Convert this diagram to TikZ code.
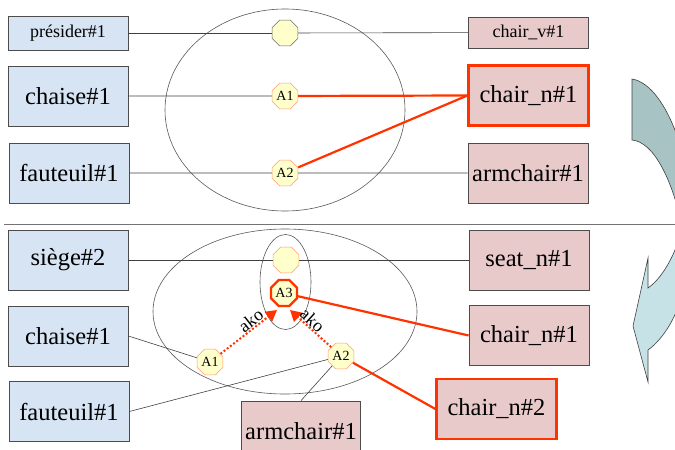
\documentclass[tikz,border=0pt]{standalone}
\usepackage{fontspec}
\setmainfont{Liberation Serif}
\usetikzlibrary{shapes.geometric,arrows.meta}
\definecolor{lblue}{HTML}{D6E4F3}
\definecolor{lpink}{HTML}{E9CACA}
\definecolor{hot}{HTML}{FF3300}
\definecolor{octfill}{HTML}{FFFFCC}
\definecolor{octline}{HTML}{FF9977}
\definecolor{arrtop}{HTML}{A7C3C3}
\definecolor{arrbot}{HTML}{C6E2E6}
\newcommand\bigtxt{\fontsize{24.5}{28}\selectfont}
\newcommand\smltxt{\fontsize{18}{21}\selectfont}

\begin{document}
\begin{tikzpicture}[x=1pt,y=-1pt,
  wbox/.style={draw=black!70,line width=0.8pt,minimum width=120pt,minimum height=60pt,inner sep=0pt,font=\bigtxt},
  lbox/.style={wbox,fill=lblue},
  rbox/.style={wbox,fill=lpink},
  tiny/.style={minimum height=34pt,font=\smltxt},
  sel/.style={draw=hot,line width=2.2pt},
  oct/.style={regular polygon,regular polygon sides=8,minimum size=28pt,inner sep=0pt,
    fill=octfill,draw=octline,line width=0.6pt,font=\fontsize{14}{16}\selectfont},
  link/.style={black!75,line width=0.6pt},
  hotlink/.style={hot,line width=2.2pt},
  ako/.style={hot,line width=2pt,dotted,-{Triangle[length=11pt,width=12pt]}},
  akotxt/.style={sloped,above,inner sep=0.5pt,text=black,font=\fontsize{18}{20}\selectfont},
  ring/.style={black!65,line width=0.6pt}]
\useasboundingbox (0,0) rectangle (675,450);
\clip (0,0) rectangle (675,450);
\draw[black!55,line width=1pt] (4,224)--(675,224);
\fill[arrtop,draw=black!75,line width=0.6pt] (632,79) .. controls (650,82) and (668,105) .. (682,150)
  -- (682,225) .. controls (672,180) and (654,142) .. (632,140) -- cycle;
\fill[arrbot,draw=black!75,line width=0.6pt] (684,225) .. controls (674,258) and (662,278) .. (648,288)
  -- (648,258) -- (633,326) -- (648,382) -- (648,350) .. controls (664,338) and (676,318) .. (684,290) -- cycle;
\draw[ring] (285,110) ellipse (120 and 101);
\node[lbox,tiny] (presider) at (68,33) {présider\#1};
\node[lbox] (chaiseA) at (68,96) {chaise\#1};
\node[lbox] (fauteuilA) at (69,173) {fauteuil\#1};
\node[rbox,tiny,minimum height=31pt] (chairv) at (528.5,32.5) {chair\_v\#1};
\node[rbox,sel] (chairnA) at (528.5,95.5) {chair\_n\#1};
\node[rbox] (armchairA) at (528,173) {armchair\#1};
\node[oct,draw=black!60] (e1) at (285,33) {};
\node[oct] (a1) at (285,96) {A1};
\node[oct] (a2) at (285,173) {A2};
\draw[link] (presider)--(e1);
\draw[link] (e1)--(chairv);
\draw[link] (chaiseA)--(a1);
\draw[link] (fauteuilA)--(a2);
\draw[link] (a2)--(armchairA);
\draw[hotlink] (a1)--(chairnA.west);
\draw[hotlink] (a2)--(chairnA.west);
\draw[ring] (285,311.5) ellipse (132 and 82.5);
\draw[ring] (285.5,282) ellipse (25.5 and 47.5);
\node[lbox] (siege) at (68,260) {siège\#2};
\node[lbox] (chaiseB) at (68,336) {chaise\#1};
\node[lbox] (fauteuilB) at (69,411.5) {fauteuil\#1};
\node[rbox] (seat) at (529,260) {seat\_n\#1};
\node[rbox] (chairnB) at (529,335.5) {chair\_n\#1};
\node[rbox,sel] (chairnC) at (496.5,409) {chair\_n\#2};
\node[rbox,minimum width=119pt] (armchairB) at (301,431) {armchair\#1};
\node[oct] (e2) at (286,260) {};
\node[oct,draw=hot,line width=2.2pt] (a3) at (284,293) {A3};
\node[oct] (b1) at (210,362) {A1};
\node[oct] (b2) at (341,356) {A2};
\coordinate (tipL) at (277,310);
\coordinate (tipR) at (290,310);
\draw[link] (siege)--(e2);
\draw[link] (e2)--(seat);
\draw[link] (chaiseB.east)--(b1);
\draw[link] (fauteuilB.east)--(b2);
\draw[link] (b2)--(armchairB.north);
\draw[hotlink] (a3)--(chairnB.west);
\draw[hotlink] (b2)--(chairnC.west);
\draw[ako] (b1)--(tipL) node[akotxt,pos=0.62] {ako};
\draw[ako] (b2)--(tipR) node[akotxt,pos=0.58] {ako};
\end{tikzpicture}
\end{document}
